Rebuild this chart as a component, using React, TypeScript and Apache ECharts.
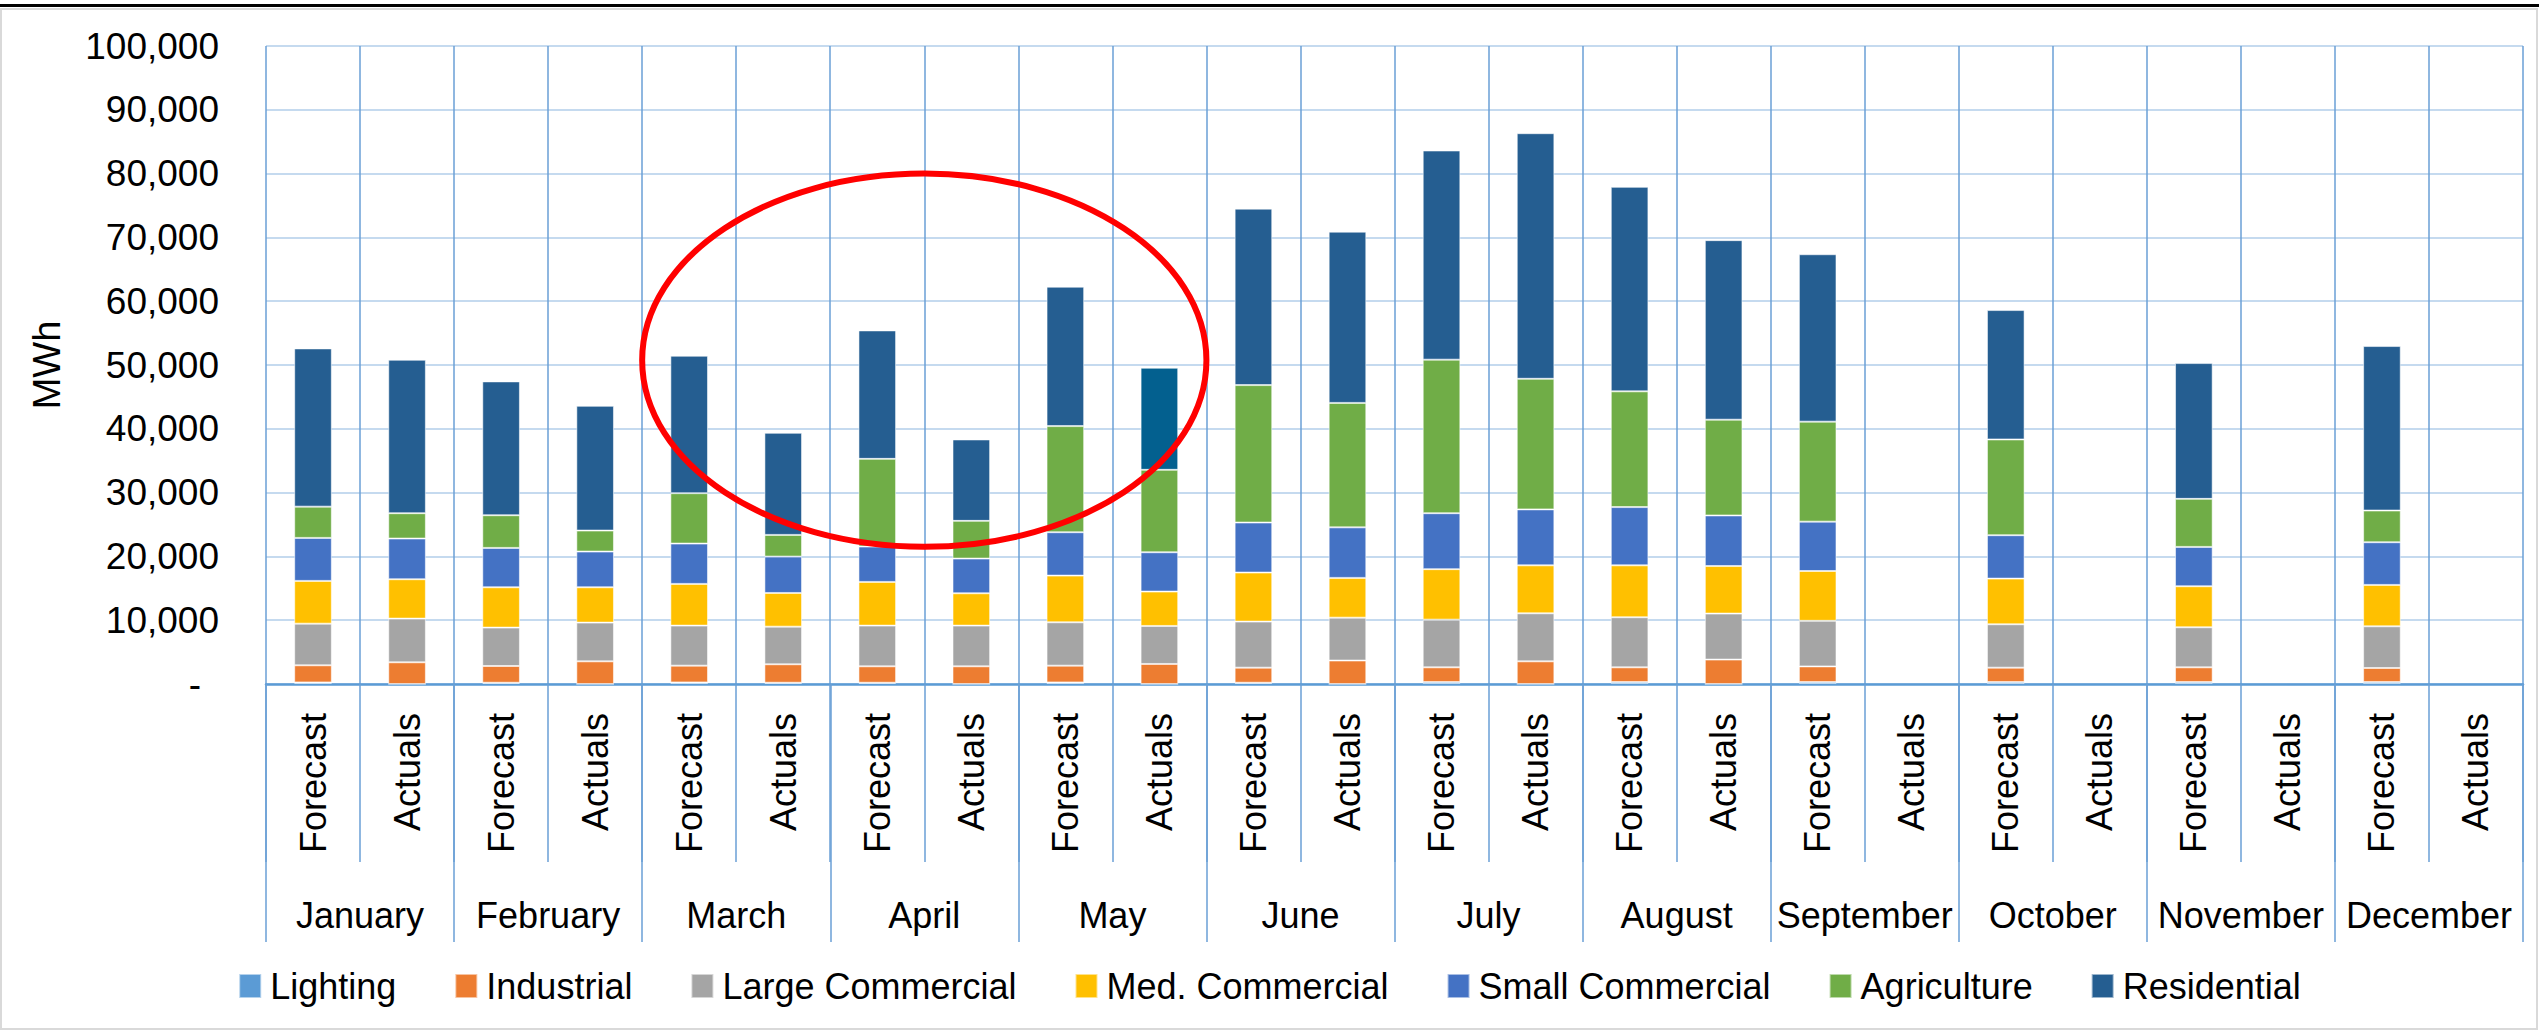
import React, { useEffect, useRef } from "react";
import * as echarts from "echarts";

const MONTHS = [
  "January", "February", "March", "April", "May", "June",
  "July", "August", "September", "October", "November", "December",
];
const SCENARIOS = ["Forecast", "Actuals"];
const CATEGORY_KEYS = MONTHS.flatMap((m) => SCENARIOS.map((s) => `${m}|${s}`));

const SERIES_NAMES = [
  "Lighting", "Industrial", "Large Commercial", "Med. Commercial",
  "Small Commercial", "Agriculture", "Residential",
];
const SERIES_COLORS = ["#5B9BD5", "#ED7D31", "#A5A5A5", "#FFC000", "#4472C4", "#70AD47", "#255E91"];

// MWh, per category: Jan F, Jan A, Feb F, Feb A, ... Dec F, Dec A
const LIGHTING = [250, 0, 200, 0, 250, 200, 200, 0, 250, 0, 200, 0, 300, 0, 300, 0, 300, null, 300, null, 300, null, 300, null];
const INDUSTRIAL = [2680, 3400, 2620, 3550, 2630, 2890, 2570, 2770, 2630, 3140, 2360, 3680, 2310, 3550, 2310, 3830, 2460, null, 2260, null, 2310, null, 2210, null];
const LARGE_COMMERCIAL = [6530, 6850, 6020, 6070, 6270, 5900, 6380, 6380, 6790, 5960, 7220, 6720, 7480, 7530, 7850, 7210, 7140, null, 6800, null, 6280, null, 6530, null];
const MED_COMMERCIAL = [6700, 6170, 6320, 5540, 6540, 5280, 6850, 5070, 7320, 5390, 7690, 6230, 7910, 7520, 8140, 7450, 7810, null, 7160, null, 6430, null, 6490, null];
const SMALL_COMMERCIAL = [6740, 6380, 6170, 5600, 6320, 5700, 5540, 5440, 6800, 6160, 7840, 7920, 8770, 8770, 9130, 7930, 7740, null, 6800, null, 6170, null, 6690, null];
const AGRICULTURE = [4900, 3970, 5120, 3290, 7900, 3400, 13750, 5910, 16630, 12920, 21540, 19510, 24070, 20470, 18140, 15010, 15670, null, 15010, null, 7530, null, 4970, null];
const RESIDENTIAL = [24800, 24050, 20980, 19550, 21540, 16000, 20130, 12760, 21850, 16000, 27660, 26840, 32780, 38490, 32050, 28140, 26240, null, 20280, null, 21280, null, 25780, null];

// the one residential segment drawn in a different blue (May actuals)
const HIGHLIGHT_INDEX = 9;
const HIGHLIGHT_COLOR = "#03608F";

const Y_MIN = 0;
const Y_MAX = 100000;
const Y_INTERVAL = 10000;

// red annotation ellipse: category-boundary span and value span
const ELLIPSE_CATS = [3, 9]; // from boundary after cat 3 to boundary after cat 9
const ELLIPSE_VALUES = [21500, 80000];

const FONT = '"Liberation Sans", Arial, sans-serif';

export default function App() {
  const ref = useRef<HTMLDivElement>(null);

  useEffect(() => {
    if (!ref.current) return;
    const chart = echarts.init(ref.current, undefined, { renderer: "svg" });
    const seriesData = [LIGHTING, INDUSTRIAL, LARGE_COMMERCIAL, MED_COMMERCIAL, SMALL_COMMERCIAL, AGRICULTURE, RESIDENTIAL];

    const option: any = {
      animation: false,
      backgroundColor: "#FFFFFF",
      textStyle: { fontFamily: FONT },
      grid: { left: 266, right: 16, top: 46, bottom: 347, containLabel: false },
      legend: {
        data: SERIES_NAMES,
        bottom: 22,
        left: "center",
        icon: "rect",
        itemWidth: 22,
        itemHeight: 24,
        itemGap: 58,
        textStyle: { fontSize: 36, color: "#000", fontFamily: FONT, padding: [0, 0, 0, 4] },
      },
      xAxis: [
        {
          type: "category",
          data: CATEGORY_KEYS,
          boundaryGap: true,
          axisLine: { show: true, lineStyle: { color: "#5B9BD5", width: 2.5 } },
          axisTick: { show: true, interval: 0, length: 178, lineStyle: { color: "#6A9FD6", width: 1.5 } },
          splitLine: { show: true, interval: 0, lineStyle: { color: "#6A9FD6", width: 1.5 } },
          axisLabel: {
            interval: 0,
            rotate: 90,
            margin: 29,
            fontSize: 36,
            color: "#000",
            fontFamily: FONT,
            formatter: (v: string) => v.split("|")[1],
          },
        },
        {
          type: "category",
          data: MONTHS,
          position: "bottom",
          offset: 0,
          boundaryGap: true,
          axisLine: { show: false },
          axisTick: { show: true, interval: 0, length: 258, lineStyle: { color: "#6A9FD6", width: 1.5 } },
          splitLine: { show: false },
          axisLabel: { interval: 0, margin: 213, fontSize: 36, color: "#000", fontFamily: FONT },
        },
      ],
      yAxis: {
        type: "value",
        min: Y_MIN,
        max: Y_MAX,
        interval: Y_INTERVAL,
        name: "MWh",
        nameLocation: "middle",
        nameRotate: 90,
        nameGap: 200,
        nameTextStyle: { fontSize: 38, color: "#000", fontFamily: FONT },
        axisLine: { show: false },
        axisTick: { show: false },
        splitLine: { show: true, lineStyle: { color: "#C5DAEF", width: 2 } },
        axisLabel: {
          margin: 47,
          fontSize: 37,
          color: "#000",
          fontFamily: FONT,
          formatter: (v: number) => (v === 0 ? "{d|-}" : v.toLocaleString("en-US")),
          rich: { d: { fontSize: 37, color: "#000", fontFamily: FONT, padding: [0, 18, 0, 0] } },
        },
      },
      series: SERIES_NAMES.map((name, si) => ({
        name,
        type: "bar",
        stack: "total",
        barWidth: "40%",
        xAxisIndex: 0,
        yAxisIndex: 0,
        itemStyle: { color: SERIES_COLORS[si], borderColor: "rgba(255,255,255,0.55)", borderWidth: 1 },
        data: seriesData[si].map((v, i) =>
          si === SERIES_NAMES.length - 1 && i === HIGHLIGHT_INDEX && v != null
            ? { value: v, itemStyle: { color: HIGHLIGHT_COLOR } }
            : v
        ),
      })),
    };
    chart.setOption(option);

    const px = (cat: number, val: number) =>
      chart.convertToPixel({ xAxisIndex: 0, yAxisIndex: 0 }, [cat, val]) as number[];
    const leftX = (px(ELLIPSE_CATS[0], 0)[0] + px(ELLIPSE_CATS[0] + 1, 0)[0]) / 2;
    const rightX = (px(ELLIPSE_CATS[1], 0)[0] + px(ELLIPSE_CATS[1] + 1, 0)[0]) / 2;
    const topY = px(0, ELLIPSE_VALUES[1])[1];
    const botY = px(0, ELLIPSE_VALUES[0])[1];

    chart.setOption({
      graphic: [
        {
          type: "rect",
          shape: { x: 1, y: 9, width: 2536, height: 1020 },
          style: { fill: "none", stroke: "#D9D9D9", lineWidth: 2 },
          silent: true,
          z: 1,
        },
        {
          type: "rect",
          shape: { x: 0, y: 4, width: 2539, height: 3 },
          style: { fill: "#000000" },
          silent: true,
          z: 1,
        },
        {
          type: "ellipse",
          shape: {
            cx: (leftX + rightX) / 2,
            cy: (topY + botY) / 2,
            rx: (rightX - leftX) / 2,
            ry: (botY - topY) / 2,
          },
          style: { fill: "none", stroke: "#FF0000", lineWidth: 6 },
          silent: true,
          z: 100,
        },
      ],
    });

    return () => chart.dispose();
  }, []);

  return (
    <div
      ref={ref}
      style={{ position: "fixed", left: 0, top: 0, width: 2539, height: 1031, background: "#fff" }}
    />
  );
}
